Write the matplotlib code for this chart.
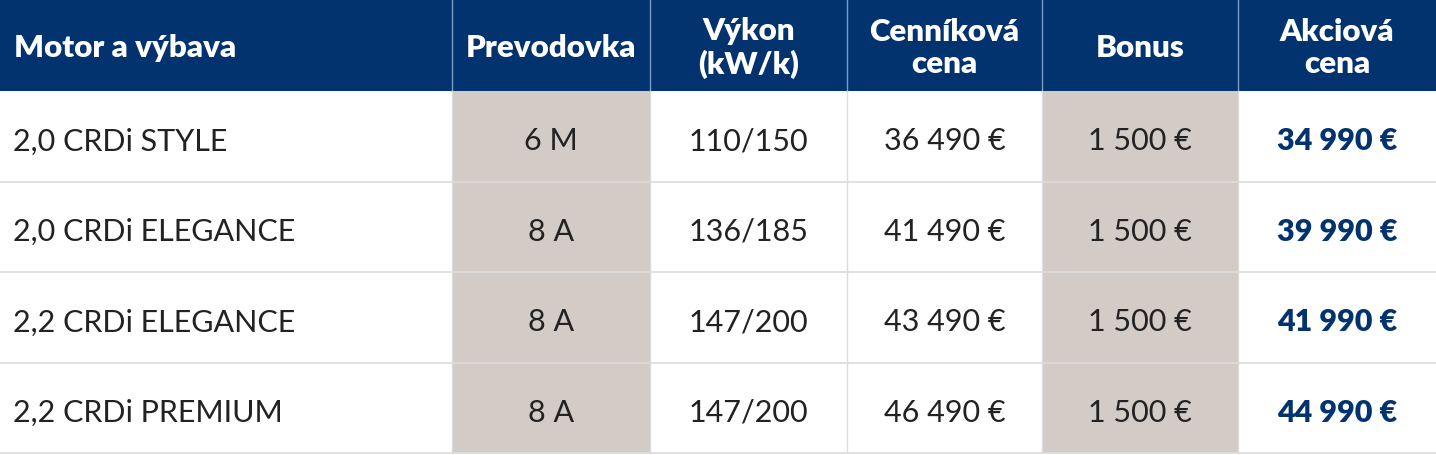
import matplotlib.pyplot as plt
from matplotlib.patches import Rectangle

# data
headers = ['Motor a výbava', 'Prevodovka', 'Výkon\n(kW/k)', 'Cenníková\ncena', 'Bonus', 'Akciová\ncena']
motor = ['2,0 CRDi STYLE', '2,0 CRDi ELEGANCE', '2,2 CRDi ELEGANCE', '2,2 CRDi PREMIUM']
prevodovka = ['6 M', '8 A', '8 A', '8 A']
vykon = ['110/150', '136/185', '147/200', '147/200']
cennikova = ['36 490 €', '41 490 €', '43 490 €', '46 490 €']
bonus = ['1 500 €', '1 500 €', '1 500 €', '1 500 €']
akciova = ['34 990 €', '39 990 €', '41 990 €', '44 990 €']

W, H = 1436, 456
col_x = [0, 452, 650, 847, 1042, 1238, 1436]
row_y = [0, 92, 183, 273, 364, 454]

navy = '#02336F'
beige = '#D3CBC6'
grid = '#DCDCDC'
txt = '#222222'

plt.rcParams['font.family'] = ['Lato', 'DejaVu Sans']

fig = plt.figure(figsize=(W / 100, H / 100), dpi=100)
ax = fig.add_axes([0, 0, 1, 1])
ax.set_xlim(0, W)
ax.set_ylim(H, 0)
ax.axis('off')

# header band
ax.add_patch(Rectangle((0, row_y[0]), W, row_y[1] - row_y[0], color=navy, lw=0))
for x in col_x[1:-1]:
    ax.plot([x, x], [row_y[0], row_y[1]], color='#7C9CC8', lw=1)

# shaded columns
for c in (1, 4):
    ax.add_patch(Rectangle((col_x[c], row_y[1]), col_x[c + 1] - col_x[c], row_y[-1] - row_y[1],
                           color=beige, lw=0))

# grid
for y in row_y[2:]:
    ax.plot([0, W], [y, y], color=grid, lw=1.2)
for x in col_x[1:-1]:
    ax.plot([x, x], [row_y[1], row_y[-1]], color=grid, lw=1)

hsize = 22.5
bsize = 22

# header text
for i, h in enumerate(headers):
    yc = (row_y[0] + row_y[1]) / 2 + 2
    if i == 0:
        ax.text(14, yc, h, ha='left', va='center', color='white', fontsize=hsize, fontweight='heavy')
    else:
        xc = (col_x[i] + col_x[i + 1]) / 2
        ax.text(xc, yc, h, ha='center', va='center', color='white', fontsize=hsize,
                fontweight='heavy', linespacing=1.2)

# body
columns = [motor, prevodovka, vykon, cennikova, bonus, akciova]
for r in range(len(motor)):
    yc = (row_y[r + 1] + row_y[r + 2]) / 2 + 4
    for c, col in enumerate(columns):
        if c == 0:
            ax.text(13, yc, col[r], ha='left', va='center', color=txt, fontsize=bsize)
        elif c == 5:
            xc = (col_x[c] + col_x[c + 1]) / 2
            ax.text(xc, yc, col[r], ha='center', va='center', color=navy, fontsize=bsize,
                    fontweight='heavy')
        else:
            xc = (col_x[c] + col_x[c + 1]) / 2
            ax.text(xc, yc, col[r], ha='center', va='center', color=txt, fontsize=bsize)

fig.savefig('out.png', dpi=100)
